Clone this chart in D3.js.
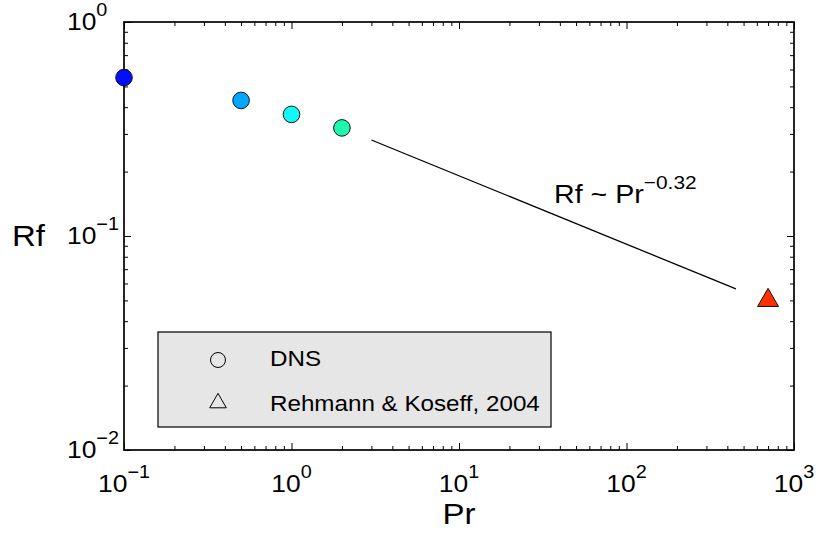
<!DOCTYPE html>
<html>
<head>
<meta charset="utf-8">
<script src="https://cdn.jsdelivr.net/npm/d3@7"></script>
<style>
  body { margin: 0; background: #fff; }
  svg { font-family: "Liberation Sans", Arial, sans-serif; }
</style>
</head>
<body>
<div id="chart"></div>
<script>
// DNS runs
const dnsPr = [0.1, 0.5, 1, 2];
const dnsRf = [0.55, 0.43, 0.37, 0.32];
const dnsColors = ["#0010ff", "#00a8ff", "#10f8f8", "#20f8b0"];

// experiment
const expPr = [700];
const expRf = [0.05];
const expColors = ["#ff3000"];

// fitted power law, endpoints
const fitPr = [3, 450];
const fitRf = [0.281, 0.0566];

const xTickExp = [-1, 0, 1, 2, 3];
const yTickExp = [-2, -1, 0];
const legendLabels = ["DNS", "Rehmann & Koseff, 2004"];

const width = 816, height = 539;
const margin = {top: 22, right: 22, bottom: 89, left: 124};
const stretch = 1.1; // text in the original is a bit wider than Arial

const svg = d3.select("#chart").append("svg")
    .attr("width", width)
    .attr("height", height);

const x = d3.scaleLog().domain([0.1, 1000]).range([margin.left, width - margin.right]);
const y = d3.scaleLog().domain([0.01, 1]).range([height - margin.bottom, margin.top]);

const majorX = xTickExp.map(e => Math.pow(10, e));
const majorY = yTickExp.map(e => Math.pow(10, e));
const isMajor = v => Math.abs(Math.log10(v) - Math.round(Math.log10(v))) < 1e-9;
const minorX = x.ticks().filter(v => !isMajor(v));
const minorY = y.ticks().filter(v => !isMajor(v));

// tick marks, inward on all four sides
function addTicks(axis, values, size, transform) {
    svg.append("g")
        .attr("transform", transform)
        .call(axis.tickValues(values).tickSize(size).tickFormat(""))
        .call(g => g.select(".domain").remove())
        .call(g => g.selectAll("line").attr("stroke", "#000").attr("stroke-width", 1));
}
const bottomY = y.range()[0], topY = y.range()[1];
const leftX = x.range()[0], rightX = x.range()[1];
addTicks(d3.axisBottom(x), majorX, -7, `translate(0,${bottomY})`);
addTicks(d3.axisBottom(x), minorX, -4, `translate(0,${bottomY})`);
addTicks(d3.axisTop(x), majorX, -7, `translate(0,${topY})`);
addTicks(d3.axisTop(x), minorX, -4, `translate(0,${topY})`);
addTicks(d3.axisLeft(y), majorY, -7, `translate(${leftX},0)`);
addTicks(d3.axisLeft(y), minorY, -4, `translate(${leftX},0)`);
addTicks(d3.axisRight(y), majorY, -7, `translate(${rightX},0)`);
addTicks(d3.axisRight(y), minorY, -4, `translate(${rightX},0)`);

// box
svg.append("rect")
    .attr("x", leftX).attr("y", topY)
    .attr("width", rightX - leftX).attr("height", bottomY - topY)
    .attr("fill", "none").attr("stroke", "#000").attr("stroke-width", 1.7);

// position a text and widen it a little
const place = (px, py) => `translate(${px},${py}) scale(${stretch},1)`;

// tick labels
const expText = e => (e < 0 ? "\u2212" + Math.abs(e) : String(e));

const xLab = svg.append("g").selectAll("text")
    .data(xTickExp)
    .join("text")
    .attr("transform", e => place(x(Math.pow(10, e)), 492))
    .attr("text-anchor", "middle")
    .attr("font-size", 24);
xLab.append("tspan").text("10");
xLab.append("tspan").attr("dy", -14).attr("font-size", 18).text(e => expText(e));

const yLab = svg.append("g").selectAll("text")
    .data(yTickExp)
    .join("text")
    .attr("transform", e => place(leftX - 57, y(Math.pow(10, e)) + 8))
    .attr("font-size", 24);
yLab.append("tspan").text("10");
yLab.append("tspan").attr("dy", -14).attr("font-size", 18).text(e => expText(e));

// axis titles
svg.append("text")
    .attr("transform", place((leftX + rightX) / 2, 524))
    .attr("text-anchor", "middle")
    .attr("font-size", 30)
    .text("Pr");

svg.append("text")
    .attr("transform", place(12, 246))
    .attr("font-size", 30)
    .text("Rf");

// fit line
svg.append("line")
    .attr("x1", x(fitPr[0])).attr("y1", y(fitRf[0]))
    .attr("x2", x(fitPr[1])).attr("y2", y(fitRf[1]))
    .attr("stroke", "#000").attr("stroke-width", 1.3);

const ann = svg.append("text")
    .attr("transform", place(554, 203))
    .attr("font-size", 26);
ann.append("tspan").text("Rf ~ Pr");
ann.append("tspan").attr("dy", -14).attr("font-size", 19).text("\u22120.32");

// data points
svg.append("g").selectAll("circle")
    .data(dnsPr)
    .join("circle")
    .attr("cx", d => x(d))
    .attr("cy", (d, i) => y(dnsRf[i]))
    .attr("r", 8.3)
    .attr("fill", (d, i) => dnsColors[i])
    .attr("stroke", "#111").attr("stroke-width", 1);

const tri = d3.symbol().type(d3.symbolTriangle).size(190);
svg.append("g").selectAll("path")
    .data(expPr)
    .join("path")
    .attr("d", tri)
    .attr("transform", (d, i) => `translate(${x(d)},${y(expRf[i])})`)
    .attr("fill", (d, i) => expColors[i])
    .attr("stroke", "#111").attr("stroke-width", 1);

// legend
const legend = svg.append("g");
legend.append("rect")
    .attr("x", 158).attr("y", 332)
    .attr("width", 393).attr("height", 95)
    .attr("fill", "#e6e6e6").attr("stroke", "#000").attr("stroke-width", 1.2);

legend.append("circle")
    .attr("cx", 218).attr("cy", 360).attr("r", 7.5)
    .attr("fill", "none").attr("stroke", "#000").attr("stroke-width", 1);
legend.append("path")
    .attr("d", d3.symbol().type(d3.symbolTriangle).size(120))
    .attr("transform", "translate(218,403)")
    .attr("fill", "none").attr("stroke", "#000").attr("stroke-width", 1);

legend.selectAll("text.lab")
    .data(legendLabels)
    .join("text")
    .attr("class", "lab")
    .attr("transform", (d, i) => place(270, 366 + i * 45))
    .attr("font-size", 22)
    .text(d => d);
</script>
</body>
</html>
